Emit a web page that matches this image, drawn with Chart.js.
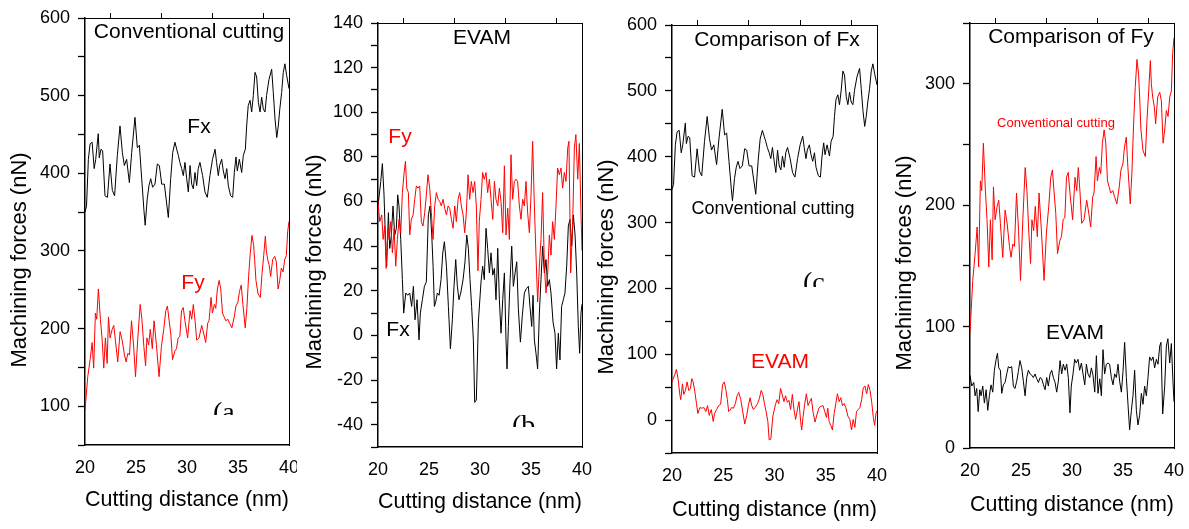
<!DOCTYPE html>
<html>
<head>
<meta charset="utf-8">
<script src="https://cdn.jsdelivr.net/npm/chart.js@4.4.1/dist/chart.umd.min.js"></script>
<style>
  body { margin: 0; background: #fff; }
  #wrap { position: relative; width: 1189px; height: 529px; overflow: hidden; background: #fff; }
  #wrap canvas { position: absolute; top: 0; background: #fff; }
</style>
</head>
<body>
<div id="wrap">
  <canvas id="panelA" width="297" height="529" style="left:0px"></canvas>
  <canvas id="panelB" width="295" height="529" style="left:297px"></canvas>
  <canvas id="panelC" width="295" height="529" style="left:592px"></canvas>
  <canvas id="panelD" width="302" height="529" style="left:887px"></canvas>
</div>
<script>
// Forces, cutting distance in nm, force in nN.

// Conventional cutting, Fx
var convFxDist = [20.0, 20.15, 20.33, 20.5, 20.7, 20.9, 21.05, 21.3, 21.4, 21.57, 21.73, 21.96, 22.2, 22.45, 22.68,
  22.9, 23.17, 23.43, 23.66, 23.86, 24.08, 24.35, 24.58, 24.9, 25.13, 25.33, 25.56, 25.78, 25.9, 26.1, 26.27, 26.44,
  26.63, 26.86, 27.09, 27.29, 27.52, 27.78, 28.17, 28.4, 28.6, 28.82, 28.99, 29.15, 29.3, 29.48, 29.64, 29.8, 29.97,
  30.13, 30.3, 30.46, 30.62, 30.78, 30.95, 31.1, 31.27, 31.53, 31.76, 31.99, 32.25, 32.5, 32.75, 32.9, 33.07, 33.2,
  33.4, 33.56, 33.73, 33.9, 34.05, 34.28, 34.48, 34.64, 34.8, 34.93, 35.13, 35.36, 35.52, 35.72, 35.85, 36.0, 36.18,
  36.34, 36.5, 36.67, 36.83, 37.0, 37.16, 37.32, 37.48, 37.65, 37.8, 38.04, 38.3, 38.46, 38.63, 38.8, 38.95, 39.1,
  39.28, 39.44, 39.6, 39.77, 40.0];
var convFxForce = [350, 358, 418, 438, 440, 406, 418, 451, 420, 431, 429, 371, 369, 412, 378,
  371, 423, 461, 427, 410, 418, 388, 427, 472, 433, 436, 393, 352, 333, 367, 384, 393,
  382, 386, 412, 410, 386, 386, 343, 393, 427, 440, 431, 423, 414, 406, 397, 414, 393,
  376, 410, 386, 380, 401, 384, 406, 414, 397, 376, 369, 397, 418, 431, 414, 397, 410,
  418, 403, 393, 406, 384, 371, 369, 401, 421, 403, 418, 401, 423, 431, 461, 487, 494,
  479, 500, 530, 524, 491, 479, 498, 483, 479, 500, 521, 534, 504, 470, 446, 461, 483,
  504, 530, 541, 526, 509];

// Conventional cutting, Fy
var convFyDist = [20.0, 20.27, 20.5, 20.7, 20.85, 21.02, 21.15, 21.31, 21.51, 21.67, 21.84, 22.0, 22.17, 22.3, 22.46,
  22.66, 22.82, 22.98, 23.21, 23.44, 23.64, 23.87, 24.03, 24.2, 24.36, 24.56, 24.76, 24.95, 25.18, 25.41, 25.58,
  25.77, 25.94, 26.07, 26.24, 26.4, 26.6, 26.77, 27.0, 27.26, 27.49, 27.72, 27.92, 28.08, 28.25, 28.41, 28.58,
  28.81, 28.97, 29.13, 29.3, 29.46, 29.63, 29.8, 30.06, 30.3, 30.46, 30.62, 30.79, 30.95, 31.18, 31.44, 31.6,
  31.83, 32.03, 32.16, 32.36, 32.49, 32.69, 32.82, 32.98, 33.15, 33.31, 33.48, 33.64, 33.8, 34.0, 34.17, 34.4,
  34.63, 34.8, 34.99, 35.15, 35.32, 35.48, 35.71, 35.87, 36.04, 36.2, 36.37, 36.53, 36.63, 36.76, 36.96, 37.19,
  37.35, 37.52, 37.68, 37.78, 37.91, 38.07, 38.2, 38.4, 38.6, 38.76, 38.93, 39.09, 39.25, 39.42, 39.58, 39.74,
  39.87, 40.0];
var convFyForce = [95, 138, 160, 182, 149, 220, 212, 251, 212, 188, 149, 188, 155, 215, 188,
  199, 204, 185, 157, 196, 185, 166, 157, 168, 166, 210, 179, 138, 188, 231, 212,
  177, 152, 188, 179, 199, 174, 210, 179, 138, 177, 199, 223, 229, 210, 193, 160,
  171, 174, 188, 190, 223, 227, 210, 188, 223, 212, 231, 210, 185, 188, 204, 196,
  182, 207, 210, 240, 220, 231, 226, 251, 262, 251, 220, 215, 210, 212, 207, 201,
  215, 229, 234, 248, 256, 231, 201, 226, 267, 297, 320, 308, 289, 262, 245, 240,
  270, 294, 319, 300, 289, 281, 267, 289, 293, 286, 251, 262, 278, 273, 289, 294,
  325, 338];

// EVAM, Fx
var evamFxDist = [20.0, 20.27, 20.43, 20.59, 20.76, 20.85, 21.02, 21.15, 21.31, 21.47, 21.64, 21.8, 21.93, 22.06,
  22.23, 22.39, 22.52, 22.72, 22.91, 23.11, 23.3, 23.47, 23.63, 23.83, 24.02, 24.15, 24.35, 24.55, 24.74, 24.94,
  25.1, 25.27, 25.4, 25.53, 25.66, 25.82, 25.99, 26.18, 26.35, 26.51, 26.71, 26.9, 27.1, 27.29, 27.45, 27.62,
  27.78, 27.94, 28.11, 28.34, 28.53, 28.7, 28.86, 29.02, 29.18, 29.35, 29.48, 29.64, 29.84, 30.1, 30.26, 30.42,
  30.59, 30.75, 30.92, 31.08, 31.25, 31.41, 31.57, 31.74, 31.9, 32.06, 32.23, 32.39, 32.55, 32.65, 32.78, 32.94,
  33.11, 33.27, 33.44, 33.6, 33.76, 33.96, 34.15, 34.35, 34.55, 34.74, 34.9, 35.07, 35.2, 35.33, 35.49, 35.65,
  35.82, 35.98, 36.14, 36.31, 36.47, 36.63, 36.8, 36.96, 37.16, 37.35, 37.51, 37.68, 37.84, 38.0, 38.17, 38.33,
  38.5, 38.66, 38.82, 38.99, 39.15, 39.32, 39.48, 39.64, 39.77, 39.9, 40.0];
var evamFxForce = [58, 69, 77, 63, 39, 31, 55, 39, 45, 58, 45, 48, 63, 58,
  43, 25, 10, 19, 18, 19, 13, 22, 7, 16, -2, 10, 16, 22, 24, 54,
  58, 45, 31, 13, 15, 19, 18, 25, 37, 42, 31, 13, -6, 7, 22, 34,
  22, 16, 19, 25, 33, 45, 39, 25, 13, -2, -30, -29, 6, 24, 31, 25,
  48, 39, 28, 37, 27, 30, 16, 39, 16, 1, 16, 28, -2, -15, 4, 24,
  40, 22, 28, 33, 12, -3, 9, 19, 21, 22, 13, 4, 18, -2, -8, -15,
  10, 25, 40, 28, 34, 22, 25, 19, 6, 1, -15, 1, -11, 13, 16, 19,
  31, 49, 52, 40, 54, 45, 28, 4, -8, 10, 14];

// EVAM, Fy
var evamFyDist = [20.0, 20.17, 20.37, 20.5, 20.66, 20.8, 20.96, 21.09, 21.25, 21.41, 21.58, 21.74, 21.9, 22.06,
  22.23, 22.39, 22.56, 22.69, 22.82, 22.98, 23.11, 23.27, 23.44, 23.6, 23.76, 23.92, 24.09, 24.25, 24.41, 24.58,
  24.74, 24.9, 25.07, 25.23, 25.4, 25.56, 25.72, 25.89, 26.05, 26.21, 26.38, 26.54, 26.71, 26.87, 27.03, 27.2,
  27.36, 27.52, 27.68, 27.85, 28.01, 28.17, 28.34, 28.5, 28.66, 28.83, 28.99, 29.15, 29.32, 29.48, 29.64, 29.8,
  29.93, 30.1, 30.26, 30.42, 30.59, 30.75, 30.92, 31.08, 31.25, 31.41, 31.57, 31.74, 31.9, 32.06, 32.23, 32.39,
  32.55, 32.72, 32.88, 33.04, 33.2, 33.37, 33.53, 33.69, 33.86, 34.02, 34.18, 34.35, 34.51, 34.67, 34.84, 35.0,
  35.16, 35.33, 35.49, 35.65, 35.82, 35.98, 36.14, 36.31, 36.47, 36.63, 36.8, 36.96, 37.12, 37.29, 37.45, 37.61,
  37.78, 37.94, 38.1, 38.27, 38.43, 38.6, 38.72, 38.89, 39.09, 39.25, 39.4, 39.58, 39.74, 39.9, 40.0];
var evamFyForce = [60, 51, 54, 43, 49, 30, 48, 43, 51, 37, 48, 31, 43, 52,
  46, 64, 73, 78, 66, 64, 45, 52, 54, 61, 67, 66, 67, 51, 49, 55,
  63, 72, 66, 55, 43, 58, 64, 61, 60, 58, 61, 57, 54, 58, 57, 52,
  48, 58, 51, 61, 64, 58, 54, 46, 55, 72, 61, 69, 64, 69, 58, 29,
  51, 61, 73, 70, 73, 64, 70, 61, 52, 69, 61, 58, 66, 60, 46, 76,
  45, 57, 43, 81, 61, 69, 70, 69, 58, 52, 61, 58, 69, 55, 46, 63,
  87, 58, 36, 15, 31, 43, 64, 31, 19, 27, 45, 36, 51, 43, 58, 75,
  72, 75, 66, 73, 69, 84, 87, 28, 51, 84, 90, 70, 86, 55, 38];

// Axis decoration
var distTicks = [20, 25, 30, 35, 40];
var topTicks = [22.5, 27.5, 32.5, 37.5];

var BLACK = '#000000';
var RED = '#ff0000';
var SANS = '"Liberation Sans", Arial, Helvetica, sans-serif';
var SERIF = '"Liberation Serif", "Times New Roman", serif';

var panels = [
  {
    id: 'panelA', left: 0, width: 297,
    plot: { left: 85, right: 289, top: 18, bottom: 445 },
    yMin: 50, yMax: 600, yStep: 50, yLabelStep: 100,
    xTitlePad: 16,
    yTitle: { x: 20, y: 260 },
    series: [
      { dist: convFxDist, force: convFxForce, color: BLACK },
      { dist: convFyDist, force: convFyForce, color: RED }
    ],
    notes: [
      { text: 'Conventional cutting', x: 189, y: 32, size: 21, color: BLACK },
      { text: 'Fx', x: 199, y: 127, size: 21, color: BLACK },
      { text: 'Fy', x: 193, y: 283, size: 21, color: RED },
      { text: '(a', x: 213, y: 421, size: 28, color: BLACK, serif: true, clipY: 415 }
    ]
  },
  {
    id: 'panelB', left: 297, width: 295,
    plot: { left: 378, right: 582, top: 23, bottom: 447 },
    yMin: -50, yMax: 140, yStep: 10, yLabelStep: 20,
    xTitlePad: 14,
    yTitle: { x: 315, y: 262 },
    series: [
      { dist: evamFyDist, force: evamFyForce, color: RED },
      { dist: evamFxDist, force: evamFxForce, color: BLACK }
    ],
    notes: [
      { text: 'EVAM', x: 482, y: 38, size: 21, color: BLACK },
      { text: 'Fy', x: 400, y: 137, size: 21, color: RED },
      { text: 'Fx', x: 398, y: 330, size: 21, color: BLACK },
      { text: '(b', x: 512, y: 434, size: 28, color: BLACK, serif: true, clipY: 427 }
    ]
  },
  {
    id: 'panelC', left: 592, width: 295,
    plot: { left: 672, right: 877, top: 25, bottom: 453 },
    yMin: -50, yMax: 600, yStep: 50, yLabelStep: 100,
    xTitlePad: 6,
    yTitle: { x: 607, y: 267 },
    series: [
      { dist: convFxDist, force: convFxForce, color: BLACK },
      { dist: evamFxDist, force: evamFxForce, color: RED }
    ],
    notes: [
      { text: 'Comparison of Fx', x: 777, y: 40, size: 21, color: BLACK },
      { text: 'Conventional cutting', x: 773, y: 209, size: 18, color: BLACK },
      { text: 'EVAM', x: 780, y: 362, size: 21, color: RED },
      { text: '(c', x: 803, y: 291, size: 28, color: BLACK, serif: true, clipY: 287 }
    ]
  },
  {
    id: 'panelD', left: 887, width: 302,
    plot: { left: 970, right: 1174, top: 23, bottom: 448 },
    yMin: 0, yMax: 350, yStep: 50, yLabelStep: 100,
    xTitlePad: 11,
    yTitle: { x: 905, y: 263 },
    series: [
      { dist: convFyDist, force: convFyForce, color: RED },
      { dist: evamFyDist, force: evamFyForce, color: BLACK }
    ],
    notes: [
      { text: 'Comparison of Fy', x: 1071, y: 37, size: 21, color: BLACK },
      { text: 'Conventional cutting', x: 1056, y: 123, size: 13, color: RED },
      { text: 'EVAM', x: 1075, y: 333, size: 21, color: BLACK }
    ]
  }
];

/**
 * Plugin that writes the in-plot labels and the rotated y title.
 */
function notesPlugin(p) {
  return {
    id: 'notes_' + p.id,
    afterDraw: function(chart) {
      var ctx = chart.ctx;
      p.notes.forEach(function(n) {
        ctx.save();
        if (n.clipY) {
          ctx.beginPath();
          ctx.rect(0, 0, p.width, n.clipY);
          ctx.clip();
        }
        ctx.fillStyle = n.color;
        ctx.font = n.size + 'px ' + (n.serif ? SERIF : SANS);
        if (n.serif) {
          ctx.textAlign = 'left';
          ctx.textBaseline = 'alphabetic';
        } else {
          ctx.textAlign = 'center';
          ctx.textBaseline = 'middle';
        }
        ctx.fillText(n.text, n.x - p.left, n.y);
        ctx.restore();
      });

      // y axis title
      ctx.save();
      ctx.translate(p.yTitle.x - p.left, p.yTitle.y);
      ctx.rotate(-Math.PI / 2);
      ctx.fillStyle = BLACK;
      ctx.font = '22px ' + SANS;
      ctx.textAlign = 'center';
      ctx.textBaseline = 'middle';
      ctx.fillText('Machining forces (nN)', 0, 0);
      ctx.restore();
    }
  };
}

// no extra edge padding from labels, the plot box is placed by hand
function noEdgePadding(s) {
  s.paddingLeft = 0;
  s.paddingRight = 0;
  s.paddingTop = 0;
  s.paddingBottom = 0;
}

function makeChart(p) {
  var datasets = p.series.map(function(s) {
    return {
      data: s.dist.map(function(d, i) { return { x: d, y: s.force[i] }; }),
      borderColor: s.color,
      borderWidth: 1,
      pointRadius: 0,
      tension: 0,
      fill: false
    };
  });

  var tickFont = { family: SANS, size: 18 };

  return new Chart(document.getElementById(p.id), {
    type: 'line',
    data: { datasets: datasets },
    plugins: [notesPlugin(p)],
    options: {
      responsive: false,
      animation: false,
      devicePixelRatio: 1,
      layout: { padding: { left: 0, top: 0, bottom: 0, right: p.left + p.width - p.plot.right } },
      plugins: { legend: { display: false }, tooltip: { enabled: false } },
      scales: {
        x: {
          type: 'linear',
          position: 'bottom',
          min: 20,
          max: 40,
          afterBuildTicks: function(s) {
            s.ticks = distTicks.map(function(v) { return { value: v }; });
          },
          ticks: { font: tickFont, color: BLACK, padding: 12, maxRotation: 0, autoSkip: false },
          grid: { display: true, drawOnChartArea: false, drawTicks: false, color: BLACK },
          border: { color: BLACK, width: 1.5 },
          title: {
            display: true,
            text: 'Cutting distance (nm)',
            color: BLACK,
            font: { family: SANS, size: 22 },
            padding: { top: 0, bottom: p.xTitlePad }
          },
          afterFit: function(s) {
            s.height = 529 - p.plot.bottom;
            noEdgePadding(s);
          }
        },
        xTop: {
          type: 'linear',
          position: 'top',
          min: 20,
          max: 40,
          afterBuildTicks: function(s) {
            s.ticks = topTicks.map(function(v) { return { value: v }; });
          },
          ticks: { display: false },
          grid: { display: true, drawOnChartArea: false, drawTicks: true, tickLength: 5, color: BLACK },
          border: { color: BLACK, width: 1 },
          afterFit: function(s) {
            s.height = p.plot.top;
            noEdgePadding(s);
          }
        },
        y: {
          type: 'linear',
          position: 'left',
          min: p.yMin,
          max: p.yMax,
          ticks: {
            stepSize: p.yStep,
            autoSkip: false,
            font: tickFont,
            color: BLACK,
            padding: 8,
            callback: function(v) { return v % p.yLabelStep === 0 ? String(v) : ''; }
          },
          grid: { display: true, drawOnChartArea: false, drawTicks: true, tickLength: 7, color: BLACK, tickWidth: 1.3 },
          border: { color: BLACK, width: 1.5 },
          afterFit: function(s) {
            s.width = p.plot.left - p.left;
            noEdgePadding(s);
          }
        },
        yRight: {
          type: 'linear',
          position: 'right',
          min: 0,
          max: 1,
          ticks: { display: false },
          grid: { display: true, drawOnChartArea: false, drawTicks: false, color: BLACK },
          border: { color: BLACK, width: 1 },
          afterFit: function(s) {
            s.width = 0;
            noEdgePadding(s);
          }
        }
      }
    }
  });
}

panels.forEach(makeChart);
</script>
</body>
</html>
